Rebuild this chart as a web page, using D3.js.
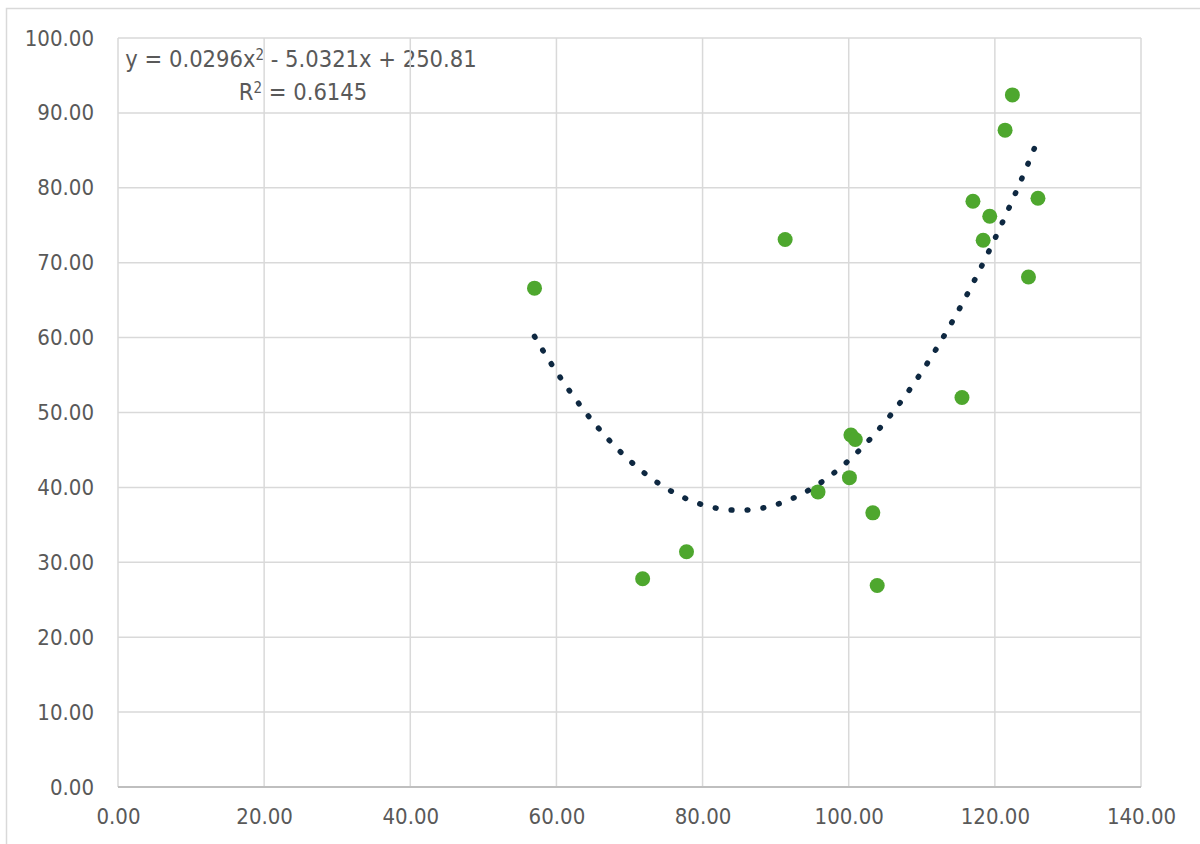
<!DOCTYPE html>
<html>
<head>
<meta charset="utf-8">
<script src="https://cdn.jsdelivr.net/npm/d3@7"></script>
<style>
  html, body { margin: 0; padding: 0; background: #ffffff; }
  svg { display: block; }
  text { font-family: "DejaVu Sans Condensed", "DejaVu Sans", sans-serif; fill: #595959; }
</style>
</head>
<body>
<svg id="chart" width="1200" height="844"></svg>
<script>
// Observed x values
const xValues = [57.0, 71.8, 77.8, 91.3, 95.8, 100.3, 100.9, 100.1, 103.3, 103.9,
                 115.5, 117.0, 118.4, 119.3, 121.4, 122.4, 124.6, 125.9];
// Observed y values
const yValues = [66.6, 27.8, 31.4, 73.1, 39.4, 47.0, 46.4, 41.3, 36.6, 26.9,
                 52.0, 78.2, 73.0, 76.2, 87.7, 92.4, 68.1, 78.6];
// Polynomial trendline coefficients (a, b, c for y = a·x² + b·x + c)
const trendCoefficients = [0.0296, -5.0321, 250.81];
const rSquared = 0.6145;
// Axis ticks
const xTicks = [0, 20, 40, 60, 80, 100, 120, 140];
const yTicks = [0, 10, 20, 30, 40, 50, 60, 70, 80, 90, 100];

const FONT = "'DejaVu Sans Condensed', 'DejaVu Sans', sans-serif";
const svg = d3.select("#chart");

const x = d3.scaleLinear().domain([0, 140]).range([118, 1141]);
const y = d3.scaleLinear().domain([0, 100]).range([787, 38]);
const fmt = d3.format(".2f");

// Outer chart frame
svg.append("rect")
  .attr("x", 6.5).attr("y", 8.5)
  .attr("width", 1400).attr("height", 1000)
  .attr("fill", "none").attr("stroke", "#d9d9d9").attr("stroke-width", 1.5);

// Trendline equation label (drawn beneath the gridlines)
const [a, b, c] = trendCoefficients;
const eq = svg.append("text")
  .attr("x", 301).attr("y", 67)
  .attr("text-anchor", "middle")
  .style("font-size", "23.5px");
eq.append("tspan").text(`y = ${a.toFixed(4)}x`);
eq.append("tspan").attr("dy", -7).style("font-size", "15px").text("2");
eq.append("tspan").attr("dy", 7).text(` - ${Math.abs(b).toFixed(4)}x + ${c.toFixed(2)}`);

const r2 = svg.append("text")
  .attr("x", 303).attr("y", 100)
  .attr("text-anchor", "middle")
  .style("font-size", "23.5px");
r2.append("tspan").text("R");
r2.append("tspan").attr("dy", -7).style("font-size", "15px").text("2");
r2.append("tspan").attr("dy", 7).text(` = ${rSquared.toFixed(4)}`);

// Gridlines
svg.append("g")
  .selectAll("line")
  .data(xTicks)
  .join("line")
  .attr("x1", d => x(d)).attr("x2", d => x(d))
  .attr("y1", y(100)).attr("y2", y(0))
  .attr("stroke", "#d9d9d9").attr("stroke-width", 1.5);

svg.append("g")
  .selectAll("line")
  .data(yTicks)
  .join("line")
  .attr("x1", x(0)).attr("x2", x(140))
  .attr("y1", d => y(d)).attr("y2", d => y(d))
  .attr("stroke", d => d === 0 ? "#bfbfbf" : "#d9d9d9")
  .attr("stroke-width", d => d === 0 ? 2 : 1.5);

// Axes (labels only; lines are the gridlines above)
const xAxis = svg.append("g")
  .attr("transform", `translate(0,${y(0)})`)
  .call(d3.axisBottom(x).tickValues(xTicks).tickFormat(fmt).tickSize(0).tickPadding(21));
xAxis.select(".domain").remove();
xAxis.selectAll("text")
  .style("font-size", "22px")
  .style("font-family", FONT)
  .attr("fill", "#595959");

const yAxis = svg.append("g")
  .attr("transform", `translate(${x(0)},0)`)
  .call(d3.axisLeft(y).tickValues(yTicks).tickFormat(fmt).tickSize(0).tickPadding(24));
yAxis.select(".domain").remove();
yAxis.selectAll("text")
  .style("font-size", "22px")
  .style("font-family", FONT)
  .attr("fill", "#595959");

// Data points
const points = xValues.map((v, i) => ({ x: v, y: yValues[i] }));
svg.append("g")
  .selectAll("circle")
  .data(points)
  .join("circle")
  .attr("cx", d => x(d.x))
  .attr("cy", d => y(d.y))
  .attr("r", 7.5)
  .attr("fill", "#4ea72e");

// Dotted polynomial trendline across the observed x range
const [xMin, xMax] = d3.extent(xValues);
const trendPts = d3.range(0, 201).map(i => {
  const xv = xMin + (xMax - xMin) * i / 200;
  return [xv, a * xv * xv + b * xv + c];
});
svg.append("path")
  .datum(trendPts)
  .attr("d", d3.line().x(d => x(d[0])).y(d => y(d[1])))
  .attr("fill", "none")
  .attr("stroke", "#0e2841")
  .attr("stroke-width", 5.5)
  .attr("stroke-linecap", "round")
  .attr("stroke-dasharray", "0.8 15.2");
</script>
</body>
</html>
